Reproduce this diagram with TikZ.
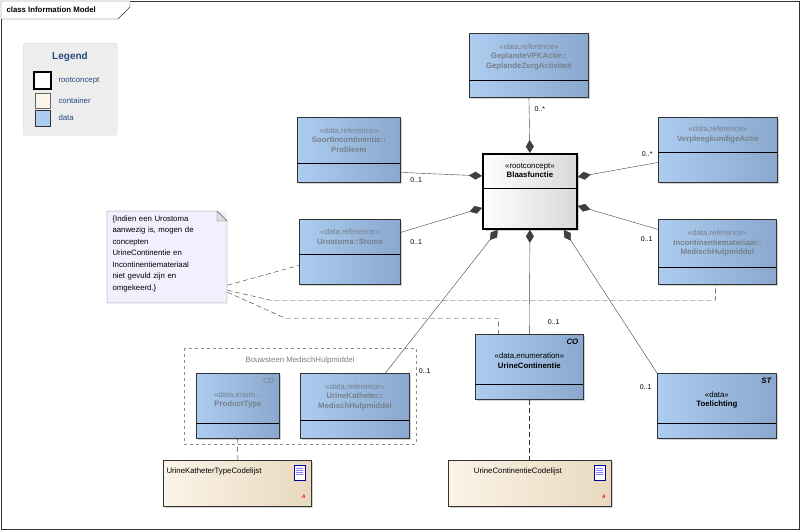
\documentclass[tikz,border=0pt]{standalone}
\usepackage{fontspec}
\setmainfont{Liberation Sans}
\usetikzlibrary{calc}
\usetikzlibrary{positioning}
\usetikzlibrary{arrows.meta}
\usetikzlibrary{shadows}

\definecolor{datalight}{RGB}{172,204,240}
\definecolor{datadark}{RGB}{138,168,205}
\definecolor{contlight}{RGB}{252,244,232}
\definecolor{contdark}{RGB}{232,216,190}
\definecolor{greytext}{RGB}{118,128,140}
\definecolor{notefill}{RGB}{242,240,255}
\definecolor{legendblue}{RGB}{40,70,130}

% box with header line and centred header text
\newcommand{\umlbox}[8]{%
  \node[#7, minimum width=#4pt, minimum height=#5pt, anchor=north west] (#1) at (#2,#3) {};
  \draw[thick] ($(#1.north west)+(0,#6)$) -- ++(#4,0);
  \node[align=center] at ($(#1.north)+(0,#6/2)$) {#8};
}

\begin{document}
\begin{tikzpicture}[x=1pt,y=-1pt,font=\fontsize{7.8}{9.5}\selectfont,
    data style/.style={rectangle,draw=black!80,thick,left color=datalight,right color=datadark,
      drop shadow={shadow xshift=2pt,shadow yshift=-2pt,fill=black!35}},
    root style/.style={rectangle,draw=black,line width=1.8pt,left color=white,right color=black!15,
      drop shadow={shadow xshift=2pt,shadow yshift=-2pt,fill=black!35}},
    cont style/.style={rectangle,draw=black!80,thick,left color=contlight,right color=contdark,
      drop shadow={shadow xshift=2pt,shadow yshift=-2pt,fill=black!35}},
    comp/.style={draw=black!75,{Diamond[length=13pt,width=8pt]}-},
    dep/.style={draw=black!80,dashed,dash pattern=on 5pt off 3pt},
    mult/.style={font=\fontsize{7}{8}\selectfont}
  ]
  \useasboundingbox (0,0) rectangle (800,530);
  \draw[black!80] (1,1) rectangle (799,529);
  \draw[black!80,fill=white] (1,1) -- (130,1) -- (130,7) -- (118,19) -- (1,19) -- cycle;
  \node[anchor=west,font=\bfseries\fontsize{7.8}{8}\selectfont] (title) at (3,10) {class Information Model};

  % legend
  \node[rectangle,rounded corners=2pt,draw=black!15,fill=black!7,minimum width=94pt,
    minimum height=92pt,anchor=north west] (legend) at (23,43) {};
  \node[font=\bfseries\fontsize{10}{11}\selectfont,text=legendblue] (legtitle) at (70,57) {Legend};
  \draw[line width=1.6pt,fill=white] (34,72) rectangle (51,89);
  \draw[black!60,fill=contlight] (35,93) rectangle (50,108);
  \draw[black!80,fill=datalight] (35,110) rectangle (50,126);
  \node[anchor=west,text=legendblue] (legroot) at (55,80.5) {rootconcept};
  \node[anchor=west,text=legendblue] (legcont) at (55,100.5) {container};
  \node[anchor=west,text=legendblue] (legdata) at (55,118) {data};

  % classes
  \umlbox{gepland}{469}{33}{119}{64}{47}{data style}{\textcolor{greytext}{«data,reference»}\\\textcolor{greytext}{\bfseries GeplandeVPKActie::}\\\textcolor{greytext}{\bfseries GeplandeZorgActiviteit}}
  \umlbox{blaas}{482}{153}{94}{75}{35}{root style}{«rootconcept»\\\bfseries Blaasfunctie}
  \umlbox{soort}{297}{117}{103}{65}{46}{data style}{\textcolor{greytext}{«data,reference»}\\\textcolor{greytext}{\bfseries SoortIncontinentie::}\\\textcolor{greytext}{\bfseries Probleem}}
  \umlbox{verpleeg}{658}{117}{119}{65}{35}{data style}{\textcolor{greytext}{«data,reference»}\\\textcolor{greytext}{\bfseries VerpleegkundigeActie}}
  \umlbox{uro}{299}{219}{101}{65}{35}{data style}{\textcolor{greytext}{«data,reference»}\\\textcolor{greytext}{\bfseries Urostoma::Stoma}}
  \umlbox{incont}{658}{219}{118}{65}{48}{data style}{\textcolor{greytext}{«data,reference»}\\\textcolor{greytext}{\bfseries Incontinentiemateriaal::}\\\textcolor{greytext}{\bfseries MedischHulpmiddel}}
  \umlbox{urcont}{475}{334}{108}{65}{50}{data style}{\\«data,enumeration»\\\bfseries UrineContinentie}
  \umlbox{toel}{657}{373}{119}{65}{50}{data style}{\\«data»\\\bfseries Toelichting}

  % group
  \draw[dashed,black!45] (184,348) rectangle (416,444);
  \node[text=greytext] (grouplabel) at (300,360) {Bouwsteen MedischHulpmiddel};
  \umlbox{product}{196}{373}{83}{65}{50}{data style}{\\\textcolor{greytext}{«data,enum...}\\\textcolor{greytext}{\bfseries ProductType}}
  \umlbox{katheter}{300}{373}{109}{65}{47}{data style}{\textcolor{greytext}{«data,reference»}\\\textcolor{greytext}{\bfseries UrineKatheter::}\\\textcolor{greytext}{\bfseries MedischHulpmiddel}}
  \node[anchor=north east,text=greytext,font=\itshape\fontsize{7.8}{8}\selectfont] (cdtag) at ($(product.north east)+(-2,2)$) {CD};
  \node[anchor=north east,font=\bfseries\itshape\fontsize{7.8}{8}\selectfont] (cotag) at ($(urcont.north east)+(-2,2)$) {CO};
  \node[anchor=north east,font=\bfseries\itshape\fontsize{7.8}{8}\selectfont] (sttag) at ($(toel.north east)+(-2,2)$) {ST};

  % code lists
  \node[cont style,minimum width=148pt,minimum height=46pt,anchor=north west] (typelijst) at (163,460) {};
  \node[anchor=north west] (typetext) at ($(typelijst.north west)+(0,4)$) {UrineKatheterTypeCodelijst};
  \node[cont style,minimum width=163pt,minimum height=46pt,anchor=north west] (contlijst) at (448,460) {};
  \node[anchor=north] (conttext) at ($(contlijst.north)+(-12,4)$) {UrineContinentieCodelijst};
  \foreach \lijst in {typelijst,contlijst}{
    \draw[blue!60!black,fill=white] ($(\lijst.north east)+(-18,5)$) rectangle ++(11,15);
    \foreach \k in {8,10,12,14}
      \draw[blue!50] ($(\lijst.north east)+(-16,\k)$) -- ++(7,0);
    \node[text=red,font=\bfseries\itshape\fontsize{5}{5}\selectfont] at ($(\lijst.south east)+(-8,-10)$) {A};
  }

  % note
  \node[rectangle,fill=notefill,minimum width=120pt,minimum height=92pt,anchor=north west] (note) at (107,211) {};
  \draw[black!60] (107,211) -- (217,211) -- (227,221) -- (227,303) -- (107,303) -- cycle;
  \draw[black!60,fill=black!12] (217,211) -- (217,221) -- (227,221) -- cycle;
  \node[anchor=north west,align=left,text width=116pt,font=\fontsize{7.8}{11.5}\selectfont] (notetext) at (109,212)
    {\{Indien een Urostoma\\aanwezig is, mogen de\\concepten\\UrineContinentie en\\Incontinentiemateriaal\\niet gevuld zijn en\\omgekeerd.\}};

  % compositions
  \draw[comp] (blaas.north) -- (gepland.south) node[mult,pos=0.8,right=2pt] {0..*};
  \draw[comp] ([yshift=15.5pt]blaas.west) -- ([yshift=-22.5pt]soort.east) node[mult,pos=1,below right=2pt and 6pt] {0..1};
  \draw[comp] ([yshift=14.5pt]blaas.east) -- ([yshift=-12.5pt]verpleeg.west) node[mult,pos=1,above left=2pt and 2pt] {0..*};
  \draw[comp] ([yshift=-16.5pt]blaas.west) -- ([yshift=19.5pt]uro.east) node[mult,pos=1,below right=4pt and 6pt] {0..1};
  \draw[comp] ([yshift=-14.5pt]blaas.east) -- ([yshift=22.5pt]incont.west) node[mult,pos=1,below left=4pt and 2pt] {0..1};
  \draw[comp] ([xshift=-32pt]blaas.south) -- ([xshift=30.5pt]katheter.north) node[mult,pos=1,above right=-4pt and 30pt] {0..1};
  \draw[comp] (blaas.south) -- (urcont.north) node[mult,pos=1,above right=6pt and 15pt] {0..1};
  \draw[comp] ([xshift=34pt]blaas.south) -- (toel.north west) node[mult,pos=1,below left=8pt and 2pt] {0..1};

  % dependencies
  \draw[dep] ([yshift=-28pt]note.east) -- ([yshift=-13.5pt]uro.west);
  \draw[dep] ([yshift=-33pt]note.east) -- ++(43,10) -| ([xshift=-2pt]incont.south);
  \draw[dep] ([yshift=-35pt]note.east) -- ++(58,26) -| ([xshift=-31pt]urcont.north);
  \draw[dep] ([xshift=-0.5pt]product.south) -- (typelijst.north -| product.south);
  \draw[dep] (urcont.south) -- (contlijst.north -| urcont.south);
\end{tikzpicture}
\end{document}
